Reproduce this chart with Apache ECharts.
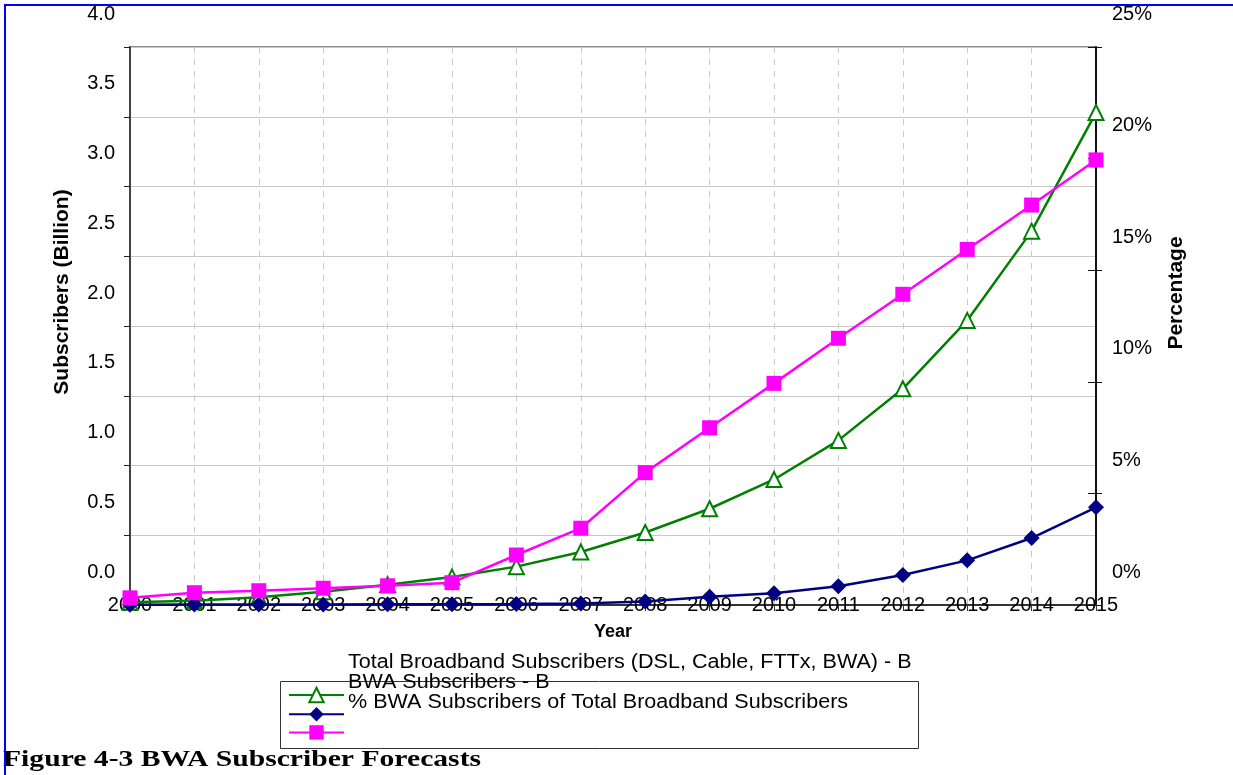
<!DOCTYPE html>
<html>
<head>
<meta charset="utf-8">
<script src="https://cdn.jsdelivr.net/npm/echarts@6/dist/echarts.min.js"></script>
<style>
html, body { margin: 0; padding: 0; background: #ffffff; }
#chart { width: 1233px; height: 775px; }
</style>
</head>
<body>
<div id="chart"></div>
<script>
const years = ['2000','2001','2002','2003','2004','2005','2006','2007','2008','2009','2010','2011','2012','2013','2014','2015'];
const totalBroadband = [0.02, 0.03, 0.055, 0.095, 0.145, 0.2, 0.275, 0.38, 0.52, 0.69, 0.9, 1.18, 1.55, 2.04, 2.68, 3.53];
const bwaSubscribers = [0.002, 0.003, 0.003, 0.004, 0.005, 0.006, 0.007, 0.01, 0.025, 0.06, 0.085, 0.135, 0.215, 0.32, 0.48, 0.70];
const bwaPercent = [0.32, 0.55, 0.64, 0.75, 0.86, 1.0, 2.24, 3.44, 5.93, 7.94, 9.93, 11.95, 13.92, 15.93, 17.92, 19.94];
const leftTicks = { min: 0, max: 4, interval: 0.5 };
const rightTicks = { min: 0, max: 25, interval: 5 };
const seriesNames = [
  'Total Broadband Subscribers (DSL, Cable, FTTx, BWA) - B',
  'BWA Subscribers - B',
  '% BWA Subscribers of Total Broadband Subscribers'
];
const titleText = 'Figure 4-3 BWA Subscriber Forecasts';

const FONT = '"Liberation Sans", Arial, sans-serif';
const chart = echarts.init(document.getElementById('chart'), null, { renderer: 'canvas' });

const legendTexts = seriesNames.map((n, i) => ({
  type: 'text', x: 348, y: 662 + i * 20, scaleX: 1.078, z: 10,
  style: { text: n, font: '20px ' + FONT, fill: '#000', align: 'left', verticalAlign: 'middle' }
}));

const labelStyle = { fontSize: 20, color: '#000', fontFamily: FONT };

const option = {
  backgroundColor: '#ffffff',
  animation: false,
  textStyle: { fontFamily: FONT },
  grid: [
    {
      left: 130, right: 137, top: 47, bottom: 170, containLabel: false, outerBoundsMode: 'none',
      show: true, borderColor: '#8a8a8a', borderWidth: 2, backgroundColor: 'transparent'
    },
    {
      left: 130, right: 137, top: 14, bottom: 203, containLabel: false, outerBoundsMode: 'none',
      show: false
    }
  ],
  legend: {
    show: true, orient: 'vertical', left: 288, top: 686, padding: 0,
    itemWidth: 55, itemHeight: 18, itemGap: 2,
    formatter: () => '',
    selectedMode: false,
    data: seriesNames
  },
  graphic: [
    { type: 'rect', shape: { x: 5, y: 5, width: 1300, height: 900 }, style: { fill: 'none', stroke: '#0000ff', lineWidth: 2 }, z: 100, silent: true },
    { type: 'rect', shape: { x: 280.5, y: 681.5, width: 638, height: 67 }, style: { fill: 'none', stroke: '#333', lineWidth: 1 }, z: 5, silent: true },
    ...legendTexts,
    { type: 'text', x: 3, y: 760, scaleX: 1.235, style: { text: titleText, font: 'bold 24px "Liberation Serif", "Times New Roman", serif', fill: '#000', align: 'left', verticalAlign: 'middle' } }
  ],
  xAxis: [
    {
      type: 'category', data: years, boundaryGap: false, gridIndex: 0,
      name: 'Year', nameLocation: 'middle', nameGap: 18,
      nameTextStyle: { fontWeight: 'bold', fontSize: 18, color: '#000', fontFamily: FONT },
      axisLine: { lineStyle: { color: '#333', width: 2 } },
      axisTick: { show: true, length: 6, lineStyle: { color: '#333' } },
      axisLabel: Object.assign({ interval: 0, margin: -10 }, labelStyle),
      splitLine: { show: true, lineStyle: { color: '#c8c8c8', type: [6, 6], width: 1 } }
    },
    { type: 'category', data: years, boundaryGap: false, gridIndex: 1, show: false }
  ],
  yAxis: [
    {
      type: 'value', gridIndex: 0, position: 'left', min: leftTicks.min, max: leftTicks.max, interval: leftTicks.interval,
      name: 'Subscribers (Billion)', nameLocation: 'middle', nameGap: 57, nameRotate: 90,
      nameTextStyle: { fontWeight: 'bold', fontSize: 21, color: '#000', fontFamily: FONT, padding: [0, 0, 0, 68] },
      axisLine: { show: true, lineStyle: { color: '#444', width: 2 } },
      axisTick: { show: true, length: 6, lineStyle: { color: '#222' } },
      axisLabel: { show: false },
      splitLine: { show: true, lineStyle: { color: '#c8c8c8', width: 1 } }
    },
    {
      type: 'value', gridIndex: 0, position: 'right', min: rightTicks.min, max: rightTicks.max, interval: rightTicks.interval,
      name: 'Percentage', nameLocation: 'middle', nameGap: 70, nameRotate: 90,
      nameTextStyle: { fontWeight: 'bold', fontSize: 21, color: '#000', fontFamily: FONT, padding: [0, 0, 0, 66] },
      axisLine: { show: true, lineStyle: { color: '#111', width: 2 } },
      axisTick: { show: true, length: 6, lineStyle: { color: '#111' } },
      axisLabel: { show: false },
      splitLine: { show: false }
    },
    {
      type: 'value', gridIndex: 0, position: 'right', min: rightTicks.min, max: rightTicks.max, interval: rightTicks.interval,
      axisLine: { show: false },
      axisTick: { show: true, inside: true, length: 8, lineStyle: { color: '#111' } },
      axisLabel: { show: false },
      splitLine: { show: false }
    },
    {
      type: 'value', gridIndex: 1, position: 'left', min: leftTicks.min, max: leftTicks.max, interval: leftTicks.interval,
      axisLine: { show: false }, axisTick: { show: false }, splitLine: { show: false },
      axisLabel: Object.assign({ margin: 15, showMinLabel: true, showMaxLabel: true, formatter: v => v.toFixed(1) }, labelStyle)
    },
    {
      type: 'value', gridIndex: 1, position: 'right', min: rightTicks.min, max: rightTicks.max, interval: rightTicks.interval,
      axisLine: { show: false }, axisTick: { show: false }, splitLine: { show: false },
      axisLabel: Object.assign({ margin: 16, showMinLabel: true, showMaxLabel: true, formatter: v => v + '%' }, labelStyle)
    }
  ],
  series: [
    {
      name: seriesNames[0], type: 'line', xAxisIndex: 0, yAxisIndex: 0, data: totalBroadband,
      symbol: 'emptyTriangle', symbolSize: 15, z: 3,
      lineStyle: { color: '#008000', width: 2.5 },
      itemStyle: { color: '#008000', borderWidth: 2.5 }
    },
    {
      name: seriesNames[1], type: 'line', xAxisIndex: 0, yAxisIndex: 0, data: bwaSubscribers,
      symbol: 'diamond', symbolSize: 16, z: 4,
      lineStyle: { color: '#000080', width: 2.5 },
      itemStyle: { color: '#000080' }
    },
    {
      name: seriesNames[2], type: 'line', xAxisIndex: 0, yAxisIndex: 1, data: bwaPercent,
      symbol: 'rect', symbolSize: 15, z: 5,
      lineStyle: { color: '#ff00ff', width: 2.5 },
      itemStyle: { color: '#ff00ff' }
    }
  ]
};
chart.setOption(option);
</script>
</body>
</html>
